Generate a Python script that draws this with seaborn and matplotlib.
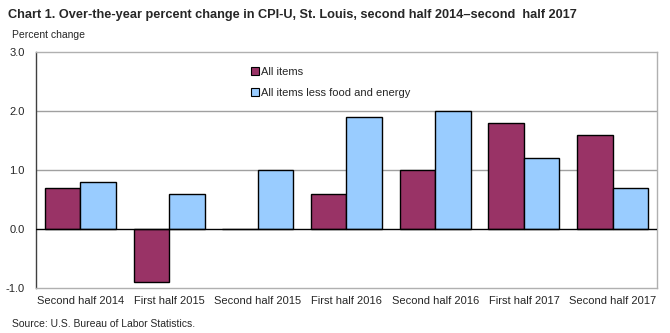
import matplotlib
matplotlib.use("Agg")
import matplotlib.pyplot as plt
import seaborn as sns
import pandas as pd
from matplotlib.patches import Patch

periods = ["Second half 2014", "First half 2015", "Second half 2015", "First half 2016",
           "Second half 2016", "First half 2017", "Second half 2017"]
all_items = [0.7, -0.9, 0.0, 0.6, 1.0, 1.8, 1.6]
core_items = [0.8, 0.6, 1.0, 1.9, 2.0, 1.2, 0.7]
series_names = ["All items", "All items less food and energy"]
colors = ["#993366", "#99CCFF"]

df = pd.DataFrame({
    "period": periods * 2,
    "value": all_items + core_items,
    "series": [series_names[0]] * len(periods) + [series_names[1]] * len(periods),
})

sns.set_theme(style="white")
plt.rcParams["font.family"] = ["Liberation Sans", "DejaVu Sans"]

fig = plt.figure(figsize=(6.7, 3.33), dpi=100)
ax = fig.add_axes([0.0537, 0.135, 0.9269, 0.709])

sns.barplot(data=df, x="period", y="value", hue="series", palette=colors,
            order=periods, hue_order=series_names, width=0.8, saturation=1,
            edgecolor="black", linewidth=1.0, ax=ax, legend=False, zorder=3)

ax.set_ylim(-1.0, 3.0)
ax.set_xlim(-0.5, len(periods) - 0.5)
ax.set_yticks([-1.0, 0.0, 1.0, 2.0, 3.0])
ax.set_yticklabels([f"{v:.1f}" for v in [-1.0, 0.0, 1.0, 2.0, 3.0]], fontsize=8)
ax.tick_params(axis="y", length=0, pad=8)
ax.tick_params(axis="x", length=0, pad=6, labelsize=8)
ax.set_xlabel("")
ax.set_ylabel("")

for y in [1.0, 2.0]:
    ax.axhline(y, color="#a0a0a0", linewidth=1.0, zorder=1)
ax.axhline(0.0, color="black", linewidth=1.0, zorder=4)

for side in ["top", "right", "bottom"]:
    ax.spines[side].set_color("#b0b0b0")
    ax.spines[side].set_linewidth(1.0)
ax.spines["left"].set_color("#404040")
ax.spines["left"].set_linewidth(1.0)

handles = [Patch(facecolor=c, edgecolor="black", linewidth=0.8) for c in colors]
ax.legend(handles, series_names, loc="upper left", bbox_to_anchor=(0.33, 0.98),
          frameon=False, fontsize=8, handlelength=0.7, handleheight=0.7,
          handletextpad=0.2, labelspacing=1.0)

fig.text(0.012, 0.955, "Chart 1. Over-the-year percent change in CPI-U, St. Louis, second half 2014\u2013second  half 2017",
         fontsize=9.2, fontweight="bold", va="center", ha="left")
fig.text(0.018, 0.895, "Percent change", fontsize=7.5, va="center", ha="left")
fig.text(0.018, 0.027, "Source: U.S. Bureau of Labor Statistics.", fontsize=7.5, va="center", ha="left")

fig.savefig("out.png", dpi=100)
